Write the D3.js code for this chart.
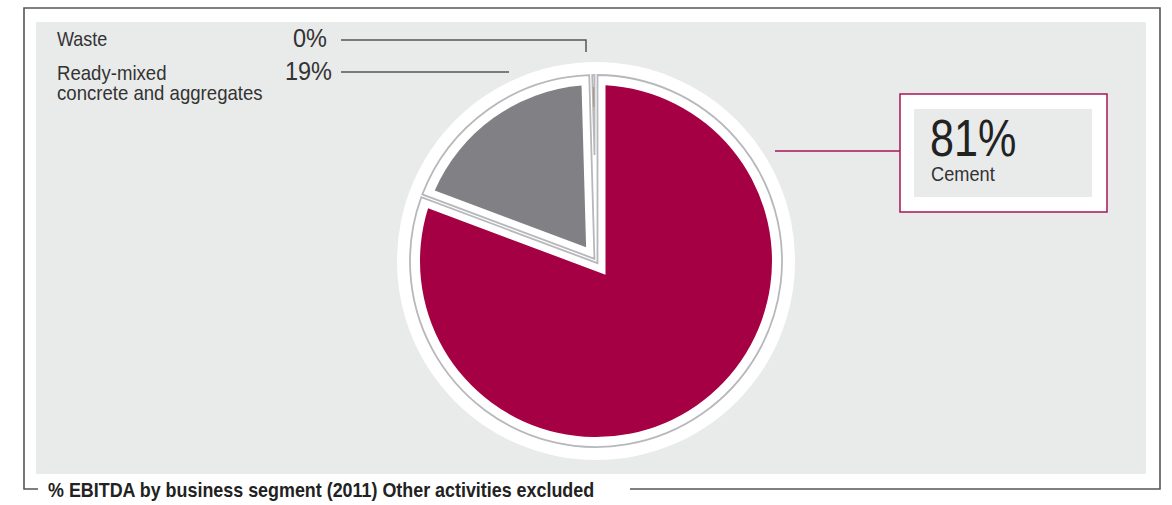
<!DOCTYPE html>
<html>
<head>
<meta charset="utf-8">
<script src="https://cdn.jsdelivr.net/npm/d3@7"></script>
<style>
  html, body { margin: 0; padding: 0; background: #ffffff; }
  svg { display: block; }
  text { font-family: "Liberation Sans", Arial, Helvetica, sans-serif; }
</style>
</head>
<body>
<svg id="chart" width="1172" height="505"></svg>
<script>
// Segment shares of EBITDA, 2011 (percent)
const segments = ["Cement", "Ready-mixed concrete and aggregates", "Waste"];
const shares = [80.7, 18.85, 0.45];
const segmentColors = ["#a50044", "#808085", "#a89a8e"];
// Label lines for the left-hand legend entries
const wasteLabel = ["Waste"];
const readyMixLabel = ["Ready-mixed", "concrete and aggregates"];
const captionText = "% EBITDA by business segment (2011) Other activities excluded";

const svg = d3.select("#chart");
const fmtPct = v => d3.format(".0f")(v) + "%";

// Condensed text: regular face squeezed horizontally
function label(x, y, str, size, opts = {}) {
  const g = svg.append("g").attr("transform", `translate(${x},${y}) scale(${opts.sx || 0.9},1)`);
  return g.append("text")
    .attr("font-size", size)
    .attr("font-weight", opts.weight || "normal")
    .attr("text-anchor", opts.anchor || "start")
    .attr("fill", opts.fill || "#333")
    .text(str);
}

// Frame and grey panel
svg.append("rect").attr("x", 36).attr("y", 22).attr("width", 1110).attr("height", 452).attr("fill", "#e9eaea");
const frame = d3.path();
frame.moveTo(38, 489); frame.lineTo(24, 489); frame.lineTo(24, 8); frame.lineTo(1160, 8); frame.lineTo(1160, 489); frame.lineTo(630, 489);
svg.append("path").attr("d", frame.toString()).attr("fill", "none").attr("stroke", "#555").attr("stroke-width", 1.6);

label(48, 497, captionText, 20, { weight: "bold", fill: "#222", sx: 0.895 });

// Pie
const cx = 596, cy = 261;
const rDisk = 199, rOutline = 186, rFill = 176;
const gapOutline = 1.5, gapFill = 9.5;

const arcs = d3.pie().sort(null).value(d => d)(shares);

// Sector inset from its two radial edges by a constant distance
function insetSector(a0, a1, R, d) {
  const th = a1 - a0;
  const apexDist = d / Math.sin(th / 2);
  if (!(apexDist < R)) return null;
  const mid = (a0 + a1) / 2;
  const u = a => [Math.sin(a), -Math.cos(a)];
  const n = a => [Math.cos(a), Math.sin(a)];
  const t = Math.sqrt(R * R - d * d);
  const apex = [apexDist * u(mid)[0], apexDist * u(mid)[1]];
  const p0 = [d * n(a0)[0] + t * u(a0)[0], d * n(a0)[1] + t * u(a0)[1]];
  const p1 = [-d * n(a1)[0] + t * u(a1)[0], -d * n(a1)[1] + t * u(a1)[1]];
  const span = th - 2 * Math.asin(d / R);
  if (span <= 0) return null;
  const large = span > Math.PI ? 1 : 0;
  return `M${apex[0]},${apex[1]}L${p0[0]},${p0[1]}A${R},${R} 0 ${large} 1 ${p1[0]},${p1[1]}Z`;
}

const pie = svg.append("g").attr("transform", `translate(${cx},${cy})`);
pie.append("circle").attr("r", rDisk).attr("fill", "#ffffff");

pie.selectAll("path.outline").data(arcs).join("path")
  .attr("class", "outline")
  .attr("d", a => insetSector(a.startAngle, a.endAngle, rOutline, gapOutline))
  .attr("fill", "#ffffff")
  .attr("stroke", "#b7b8bc")
  .attr("stroke-width", 1.8);

const fills = arcs.map((a, i) => ({ a, i, d: insetSector(a.startAngle, a.endAngle, rFill, gapFill) }));
pie.selectAll("path.slice").data(fills.filter(f => f.d)).join("path")
  .attr("class", "slice")
  .attr("d", f => f.d)
  .attr("fill", f => segmentColors[f.i]);
// Slices too thin for the inset fill show as a hairline near the rim
pie.selectAll("line.sliver").data(fills.filter(f => !f.d)).join("line")
  .attr("class", "sliver")
  .attr("x1", f => (rFill - 22) * Math.sin((f.a.startAngle + f.a.endAngle) / 2))
  .attr("y1", f => -(rFill - 22) * Math.cos((f.a.startAngle + f.a.endAngle) / 2))
  .attr("x2", f => (rFill - 2) * Math.sin((f.a.startAngle + f.a.endAngle) / 2))
  .attr("y2", f => -(rFill - 2) * Math.cos((f.a.startAngle + f.a.endAngle) / 2))
  .attr("stroke", f => segmentColors[f.i])
  .attr("stroke-width", 1.4);

// Left legend entries with leader lines
const leader = "#555";

label(57, 46, wasteLabel[0], 20);
label(327, 47, fmtPct(shares[2]), 25, { anchor: "end", sx: 0.94 });
const l1 = d3.path(); l1.moveTo(341, 40); l1.lineTo(586, 40); l1.lineTo(586, 52);
svg.append("path").attr("d", l1.toString()).attr("fill", "none").attr("stroke", leader).attr("stroke-width", 1.5);

readyMixLabel.forEach((line, i) => label(57, 80 + i * 20, line, 20, { sx: 0.93 }));
label(332, 80, fmtPct(shares[1]), 25, { anchor: "end", sx: 0.94 });
svg.append("line").attr("x1", 341).attr("x2", 509).attr("y1", 72).attr("y2", 72).attr("stroke", leader).attr("stroke-width", 1.5);

// Cement callout
const crimson = "#a8145a";
svg.append("line").attr("x1", 775).attr("x2", 900).attr("y1", 151).attr("y2", 151).attr("stroke", crimson).attr("stroke-width", 1.4);
svg.append("rect").attr("x", 900).attr("y", 94).attr("width", 207).attr("height", 118)
  .attr("fill", "#ffffff").attr("stroke", crimson).attr("stroke-width", 1.5);
svg.append("rect").attr("x", 914).attr("y", 109).attr("width", 178).attr("height", 88).attr("fill", "#e9eaea");
label(930, 156, fmtPct(shares[0]), 52, { fill: "#222", sx: 0.83 });
label(931, 181, segments[0], 20, { sx: 0.91 });
</script>
</body>
</html>
